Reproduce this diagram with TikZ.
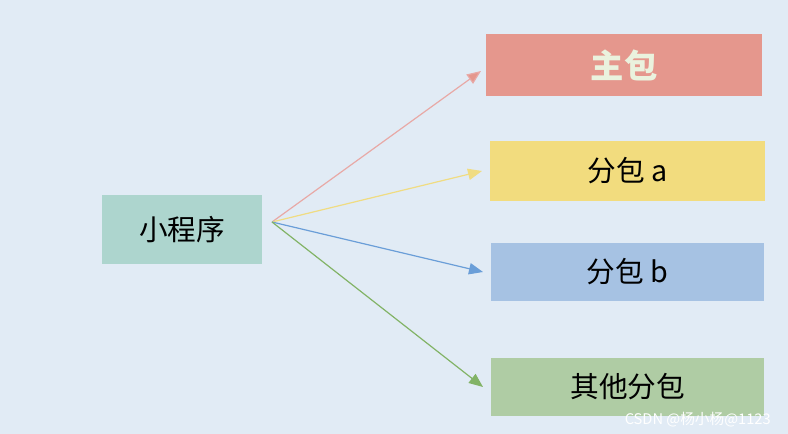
\documentclass[tikz,border=0pt]{standalone}
\usepackage{fontspec}
\usepackage{tikz}
\usepackage{xcolor}
\usetikzlibrary{arrows.meta}
\newfontfamily\cjk{Noto Sans CJK SC}
\definecolor{bgblue}{HTML}{E1EBF5}
\definecolor{progc}{HTML}{ADD5CE}
\definecolor{mainc}{HTML}{E5978D}
\definecolor{subac}{HTML}{F2DC7E}
\definecolor{subbc}{HTML}{A6C2E3}
\definecolor{otherc}{HTML}{AFCCA4}
\definecolor{mainline}{HTML}{E8A9A6}
\definecolor{mainhead}{HTML}{E5978D}
\definecolor{subaline}{HTML}{F0DC82}
\definecolor{subbline}{HTML}{6A9ED8}
\definecolor{otherline}{HTML}{82B366}
\definecolor{maintext}{HTML}{EAF2DE}

\begin{document}
\begin{tikzpicture}[x=0.75pt,y=-0.75pt,
  box/.style={anchor=north west,inner sep=0pt,outer sep=0pt,
    font=\cjk\fontsize{21.5}{24}\selectfont,text=black},
  link/.style={line width=0.9pt,-{Triangle[length=10.5pt,width=8.5pt]}}]
  \fill[bgblue] (0,0) rectangle (788,434);
  \useasboundingbox (0,0) rectangle (788,434);
  % boxes
  \node[box,fill=progc,minimum width=120pt,minimum height=52pt] (prog) at (102,195) {小程序};
  \node[box,fill=mainc,minimum width=207pt,minimum height=46.5pt,text=maintext,
    font=\cjk\bfseries\fontsize{25}{28}\selectfont] (main) at (486,34) {主包};
  \node[box,fill=subac,minimum width=206pt,minimum height=45pt] (suba) at (490,141) {分包 a};
  \node[box,fill=subbc,minimum width=205pt,minimum height=43.5pt] (subb) at (491,243) {分包 b};
  \node[box,fill=otherc,minimum width=205pt,minimum height=43.5pt] (other) at (491,358) {其他分包};
  % links
  \coordinate (src) at (272,222);
  \coordinate (mainend) at (481,71);
  \coordinate (subaend) at (482,171);
  \coordinate (subbend) at (483,272);
  \coordinate (otherend) at (483,387);
  \draw[link,draw=mainline,-{Triangle[length=10.5pt,width=8.5pt,fill=mainhead]}] (src) -- (mainend);
  \draw[link,draw=subaline] (src) -- (subaend);
  \draw[link,draw=subbline] (src) -- (subbend);
  \draw[link,draw=otherline] (src) -- (otherend);
  % watermark
  \node[anchor=east,inner sep=0pt,text=white,font=\cjk\fontsize{11}{13}\selectfont] (mark) at (771,420) {CSDN @杨小杨@1123};
\end{tikzpicture}
\end{document}
